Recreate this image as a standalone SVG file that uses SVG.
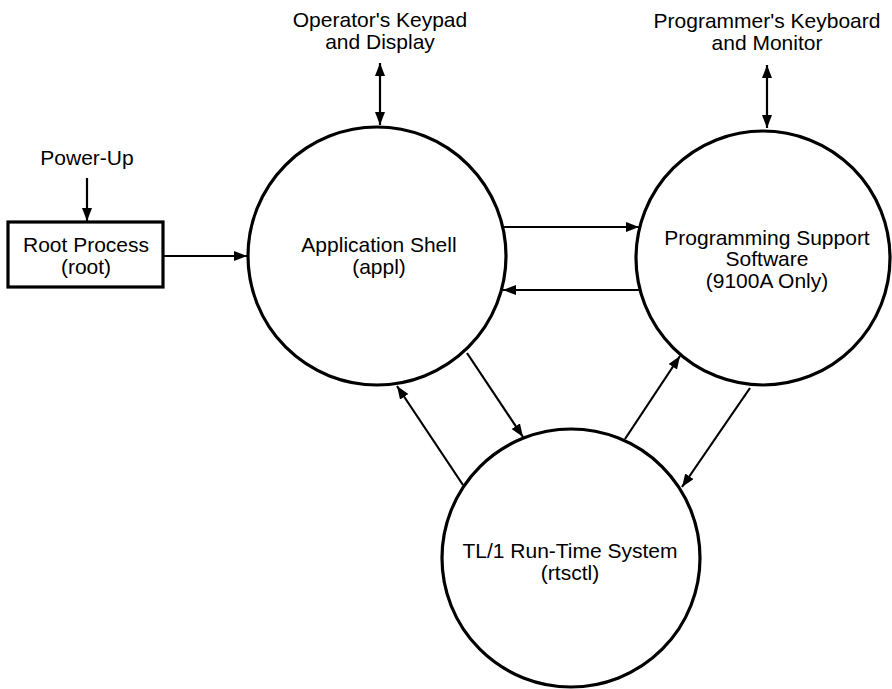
<svg xmlns="http://www.w3.org/2000/svg" width="892" height="689" viewBox="0 0 892 689">
<style>
.node{fill:#fff;stroke:#000;stroke-width:3.2}
.lbl{font-family:"Liberation Sans",Arial,sans-serif;font-size:21px;fill:#000;text-anchor:middle}
.conn{stroke:#000;stroke-width:2.2;fill:none}
</style>
<defs>
<marker id="ah" markerUnits="userSpaceOnUse" markerWidth="14" markerHeight="11" refX="13" refY="5" orient="auto-start-reverse">
<path d="M0,0 L13,5 L0,10 z" fill="#000"/>
</marker>
</defs>
<rect width="892" height="689" fill="#fff"/>
<g id="connectors">
<line class="conn" x1="87" y1="178" x2="87" y2="221" marker-end="url(#ah)"/>
<line class="conn" x1="163" y1="256" x2="247" y2="256" marker-end="url(#ah)"/>
<line class="conn" x1="380" y1="63" x2="380" y2="125" marker-start="url(#ah)" marker-end="url(#ah)"/>
<line class="conn" x1="767" y1="65" x2="767" y2="128" marker-start="url(#ah)" marker-end="url(#ah)"/>
<line class="conn" x1="504" y1="227" x2="639" y2="227" marker-end="url(#ah)"/>
<line class="conn" x1="639" y1="290" x2="503" y2="290" marker-end="url(#ah)"/>
<line class="conn" x1="467" y1="353" x2="523" y2="437" marker-end="url(#ah)"/>
<line class="conn" x1="463" y1="485" x2="397" y2="386" marker-end="url(#ah)"/>
<line class="conn" x1="625" y1="439" x2="680" y2="356" marker-end="url(#ah)"/>
<line class="conn" x1="750" y1="388" x2="682" y2="487" marker-end="url(#ah)"/>
</g>
<g id="power-up">
<text class="lbl" x="87" y="165">Power-Up</text>
</g>
<g id="operator">
<text class="lbl" x="380" y="27">Operator's Keypad</text>
<text class="lbl" x="380" y="49">and Display</text>
</g>
<g id="programmer">
<text class="lbl" x="767" y="28">Programmer's Keyboard</text>
<text class="lbl" x="767" y="50">and Monitor</text>
</g>
<g id="root">
<rect class="node" x="8" y="222" width="155" height="65"/>
<text class="lbl" x="86" y="252">Root Process</text>
<text class="lbl" x="86" y="274">(root)</text>
</g>
<g id="appl">
<circle class="node" cx="377" cy="256" r="129"/>
<text class="lbl" x="379" y="252">Application Shell</text>
<text class="lbl" x="379" y="274">(appl)</text>
</g>
<g id="pss">
<circle class="node" cx="763" cy="258" r="127"/>
<text class="lbl" x="767" y="245">Programming Support</text>
<text class="lbl" x="767" y="266">Software</text>
<text class="lbl" x="767" y="288">(9100A Only)</text>
</g>
<g id="rtsctl">
<circle class="node" cx="571" cy="558" r="129"/>
<text class="lbl" x="570" y="558">TL/1 Run-Time System</text>
<text class="lbl" x="570" y="580">(rtsctl)</text>
</g>
</svg>
